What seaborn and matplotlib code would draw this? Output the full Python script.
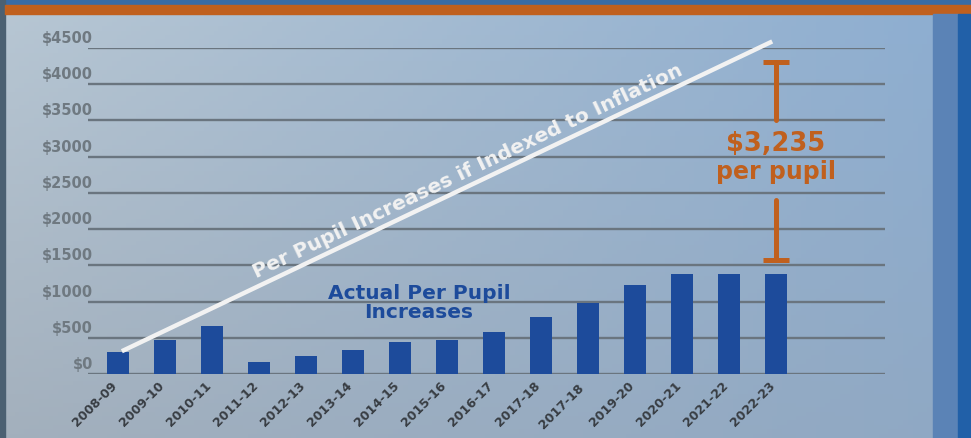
import numpy as np
import pandas as pd
import seaborn as sns
import matplotlib.pyplot as plt
from matplotlib.transforms import ScaledTranslation
from matplotlib.patches import Rectangle

# school years (the source repeats 2017-18 on the 11th bar)
years = ["2008-09", "2009-10", "2010-11", "2011-12", "2012-13", "2013-14", "2014-15",
         "2015-16", "2016-17", "2017-18", "2017-18 ", "2019-20", "2020-21", "2021-22", "2022-23"]
actual = [300, 470, 660, 165, 250, 330, 440, 470, 580, 790, 980, 1230, 1380, 1380, 1380]
inflation_ends = [290, 4615]   # indexed-to-inflation line, first and last year
gap = 3235
yticks = [0, 500, 1000, 1500, 2000, 2500, 3000, 3500, 4000, 4500]

BLUE = "#1d4b9b"
ORANGE = "#c0601e"
GRID = "#6a757f"

sns.set_theme(style="white")
plt.rcParams['font.family'] = ['DejaVu Sans']

fig = plt.figure(figsize=(9.71, 4.38), dpi=100)

# background: light blue-grey panel with coloured frame strips
bg = fig.add_axes([0, 0, 1, 1], zorder=-1)
c_tl, c_tr = np.array([0.72, 0.78, 0.83]), np.array([0.55, 0.68, 0.82])
c_bl, c_br = np.array([0.64, 0.69, 0.74]), np.array([0.56, 0.66, 0.77])
u = np.linspace(0, 1, 200)[None, :, None]
v = np.linspace(0, 1, 100)[:, None, None]
grad = (1 - v) * ((1 - u) * c_tl + u * c_tr) + v * ((1 - u) * c_bl + u * c_br)
bg.imshow(grad, extent=(0, 971, 438, 0), aspect="auto")
bg.add_patch(Rectangle((0, 0), 971, 5, color="#3a6ca6"))
bg.add_patch(Rectangle((0, 0), 5, 438, color="#4b6072"))
bg.add_patch(Rectangle((5, 5), 966, 9, color=ORANGE))
bg.add_patch(Rectangle((933, 14), 25, 424, color="#5b83b6"))
bg.add_patch(Rectangle((958, 14), 13, 424, color="#2160a8"))
bg.set_xlim(0, 971)
bg.set_ylim(438, 0)
bg.axis("off")

ax = fig.add_axes([88 / 971, 1 - 374 / 438, (885 - 88) / 971, (374 - 48) / 438])
ax.patch.set_alpha(0)

df = pd.DataFrame({"year": years, "actual": actual})
sns.barplot(data=df, x="year", y="actual", color=BLUE, width=0.48, saturation=1,
            linewidth=0, ax=ax, zorder=3)

ax.set_xlim(-0.64, 16.32)
ax.set_ylim(0, 4500)
ax.set_yticks(yticks)
ax.set_yticklabels([f"${t}" for t in yticks])
ax.yaxis.grid(True, color=GRID, linewidth=1.7, zorder=0)
ax.set_axisbelow(True)
for s in ax.spines.values():
    s.set_visible(False)
ax.set_xlabel("")
ax.set_ylabel("")
ax.tick_params(axis="both", length=0)
ax.tick_params(axis="y", pad=0, labelsize=10.5, labelcolor="#6f7981")
ax.tick_params(axis="x", pad=4, labelsize=9, labelcolor="#383d43")
for lbl in ax.get_yticklabels():
    lbl.set_fontweight("bold")
    lbl.set_transform(lbl.get_transform() + ScaledTranslation(0.05, 0.11, fig.dpi_scale_trans))
for lbl in ax.get_xticklabels():
    lbl.set_fontweight("bold")
    lbl.set_rotation(45)
    lbl.set_ha("right")
    lbl.set_va("top")
    lbl.set_transform(lbl.get_transform() + ScaledTranslation(0.02, 0, fig.dpi_scale_trans))

# inflation line
n = len(years) - 1
lx = np.array([0.08, n - 0.08])
ly = np.interp(lx, [0, n], inflation_ends)
ax.plot(lx, ly, color="#f2f2f2", linewidth=3.2, solid_capstyle="butt", zorder=4, clip_on=False)
ax.text(7.45, 2800, "Per Pupil Increases if Indexed to Inflation", color="#f2f2f2",
        fontsize=14.5, fontweight="bold", rotation=25.5, rotation_mode="anchor",
        ha="center", va="center", zorder=5)

ax.text(6.4, 980, "Actual Per Pupil\nIncreases", color=BLUE, fontsize=14.5,
        fontweight="bold", ha="center", va="center", linespacing=1.05, zorder=5)

# gap bracket
top = actual[-1] + gap - 315
bottom = actual[-1] + 190
ax.plot([n, n], [top, 3500], color=ORANGE, linewidth=3.6, zorder=4)
ax.plot([n, n], [2400, bottom], color=ORANGE, linewidth=3.6, zorder=4)
ax.hlines([top, bottom], n - 0.27, n + 0.27, color=ORANGE, linewidth=3.6, zorder=4)
ax.text(n, 3180, f"${gap:,}", color=ORANGE, fontsize=18.5, fontweight="bold",
        ha="center", va="center", zorder=5)
ax.text(n, 2790, "per pupil", color=ORANGE, fontsize=17, fontweight="bold",
        ha="center", va="center", zorder=5)

fig.savefig("out.png", dpi=100)
